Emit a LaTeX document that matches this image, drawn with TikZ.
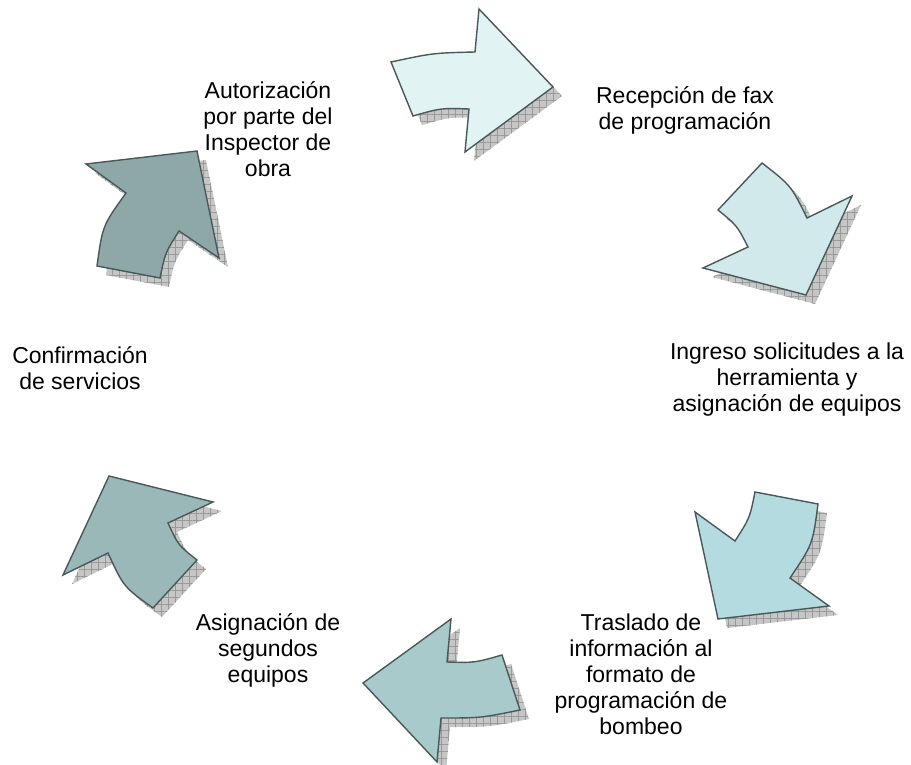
\documentclass[tikz,border=0pt]{standalone}
\usepackage{fontspec}
\setmainfont{Liberation Sans}
\usetikzlibrary{patterns.meta}

\definecolor{pasoA}{HTML}{E2F3F4}
\definecolor{pasoB}{HTML}{D1E9EA}
\definecolor{pasoC}{HTML}{B4DCE0}
\definecolor{pasoD}{HTML}{A8CACB}
\definecolor{pasoE}{HTML}{9AB8B8}
\definecolor{pasoF}{HTML}{8EA8A8}
\definecolor{borde}{HTML}{495859}

\begin{document}
\begin{tikzpicture}[x=1pt, y=-1pt,
	flecha/.style={draw=borde, line width=1.4pt, line join=miter},
	sombra/.style={fill=gray!45, postaction={pattern={Hatch[distance=7pt, line width=0.5pt]}, pattern color=gray!80}},
	paso/.style={align=center, inner sep=0pt, font=\fontsize{23}{26}\selectfont}]
	\useasboundingbox (0,0) rectangle (911,765);

	% contornos de las seis flechas
	\def\flechaA{(391,62) .. controls (433,53) .. (475,52) -- (479,9) -- (553,87) -- (465,152) -- (469,109) .. controls (441,108) .. (413,116) -- cycle}
	\def\flechaB{(762,163) .. controls (791,185.5) .. (807,218) -- (852,196) -- (806,295) -- (703,268) -- (748,247) .. controls (737,225.5) .. (718,210) -- cycle}
	\def\flechaC{(755,492) -- (818,504) .. controls (812.7,544.3) .. (790,578) -- (829,606) -- (718,619) -- (695,512) -- (735,541) .. controls (749.7,518.2) .. cycle}
	\def\flechaD{(502,655) -- (520,710) .. controls (480.8,718) .. (441,718) -- (437,762) -- (363,683) -- (451,619) -- (447,662) .. controls (474.8,662.8) .. cycle}
	\def\flechaE{(197,560) -- (153,608) .. controls (123.5,586.8) .. (108,553) -- (63,575) -- (109,476) -- (213,502) -- (168,523) .. controls (178.2,545.2) .. cycle}
	\def\flechaF{(97,266) .. controls (102.5,225.8) .. (126,193) -- (86,164) -- (197,151) -- (219,258) -- (179,231) .. controls (165.2,252.8) .. (160,278) -- cycle}

	\foreach \f in {\flechaA,\flechaB,\flechaC,\flechaD,\flechaE,\flechaF}
		\fill[sombra, shift={(9,9)}] \f;

	\draw[flecha, fill=pasoA] \flechaA;
	\draw[flecha, fill=pasoB] \flechaB;
	\draw[flecha, fill=pasoC] \flechaC;
	\draw[flecha, fill=pasoD] \flechaD;
	\draw[flecha, fill=pasoE] \flechaE;
	\draw[flecha, fill=pasoF] \flechaF;

	\node[paso] (recepcion) at (685,110) {Recepción de fax\\de programación};
	\node[paso] (ingreso) at (787,380) {Ingreso solicitudes a la\\herramienta y\\asignación de equipos};
	\node[paso] (traslado) at (641,674) {Traslado de\\información al\\formato de\\programación de\\bombeo};
	\node[paso] (asignacion) at (268,650) {Asignación de\\segundos\\equipos};
	\node[paso] (confirmacion) at (80,368) {Confirmación\\de servicios};
	\node[paso] (autorizacion) at (268,129) {Autorización\\por parte del\\Inspector de\\obra};
\end{tikzpicture}
\end{document}
